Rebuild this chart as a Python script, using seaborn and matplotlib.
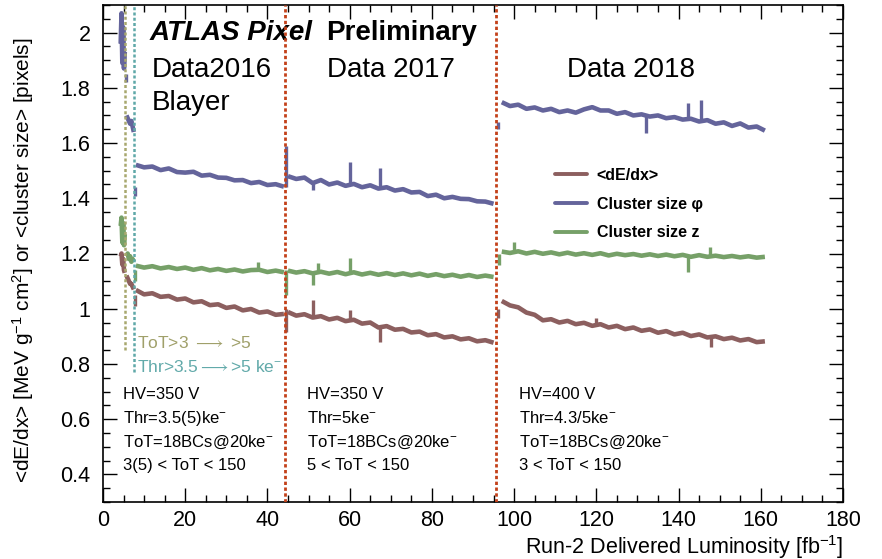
import numpy as np
import pandas as pd
import matplotlib
matplotlib.use("Agg")
import matplotlib.pyplot as plt
from matplotlib.lines import Line2D
from matplotlib.ticker import MultipleLocator
import seaborn as sns

# Luminosity points (fb^-1) per data-taking period
lumi_16a = [4.3, 4.5, 4.7, 4.9, 5.1, 5.3]
lumi_16b = [5.7, 6.0, 6.3, 6.6, 6.9, 7.2, 7.5]
lumi_16 = [8, 10, 12, 14, 16, 18, 20, 22, 24, 26, 28, 30, 32, 34, 36, 38, 40, 42, 44]
lumi_17 = [45, 47, 49, 51, 53, 55, 57, 59, 61, 63, 65, 67, 69, 71, 73, 75, 77, 79,
           81, 83, 85, 87, 89, 91, 93, 95]
lumi_18 = [97, 99, 101, 103, 105, 107, 109, 111, 113, 115, 117, 119, 121, 123, 125,
           127, 129, 131, 133, 135, 137, 139, 141, 143, 145, 147, 149, 151, 153, 155,
           157, 159, 161]

# <dE/dx>
dedx_16a = [1.19, 1.20, 1.16, 1.18, 1.14, 1.13]
dedx_16b = [1.12, 1.11, 1.10, 1.09, 1.09, 1.08, 1.07]
dedx_16 = [1.068, 1.052, 1.056, 1.043, 1.046, 1.033, 1.037, 1.023, 1.027, 1.013, 1.016,
           1.003, 1.008, 0.994, 0.999, 0.986, 0.990, 0.978, 0.981]
dedx_17 = [0.988, 0.975, 0.980, 0.968, 0.973, 0.961, 0.967, 0.955, 0.960, 0.946, 0.950,
           0.932, 0.937, 0.924, 0.927, 0.914, 0.917, 0.904, 0.908, 0.896, 0.900, 0.889,
           0.893, 0.882, 0.886, 0.877]
dedx_18 = [1.028, 1.012, 1.005, 0.986, 0.978, 0.958, 0.962, 0.950, 0.956, 0.944, 0.949,
           0.938, 0.944, 0.932, 0.938, 0.926, 0.932, 0.920, 0.925, 0.913, 0.919, 0.907,
           0.913, 0.901, 0.907, 0.896, 0.900, 0.890, 0.895, 0.885, 0.890, 0.879, 0.882]

# <cluster size> phi
phi_16a = [1.96, 2.07, 1.89, 2.02, 1.87, 1.93]
phi_16b = [1.70, 1.69, 1.68, 1.67, 1.68, 1.66, 1.64]
phi_16 = [1.521, 1.512, 1.515, 1.502, 1.508, 1.495, 1.493, 1.496, 1.482, 1.485, 1.475,
          1.474, 1.465, 1.466, 1.455, 1.459, 1.448, 1.451, 1.442]
phi_17 = [1.480, 1.470, 1.475, 1.455, 1.466, 1.450, 1.457, 1.445, 1.452, 1.440, 1.447,
          1.435, 1.440, 1.428, 1.433, 1.421, 1.423, 1.408, 1.413, 1.400, 1.405, 1.398,
          1.397, 1.389, 1.388, 1.380]
phi_18 = [1.748, 1.734, 1.739, 1.724, 1.729, 1.718, 1.724, 1.712, 1.718, 1.710, 1.722,
          1.730, 1.718, 1.718, 1.706, 1.712, 1.700, 1.704, 1.696, 1.700, 1.690, 1.694,
          1.685, 1.688, 1.678, 1.683, 1.670, 1.675, 1.662, 1.671, 1.656, 1.660, 1.645]

# <cluster size> z
z_16a = [1.30, 1.33, 1.24, 1.31, 1.23, 1.27]
z_16b = [1.19, 1.20, 1.18, 1.19, 1.17, 1.18, 1.17]
z_16 = [1.156, 1.149, 1.154, 1.146, 1.151, 1.144, 1.149, 1.141, 1.147, 1.139, 1.144,
        1.137, 1.142, 1.135, 1.140, 1.141, 1.133, 1.138, 1.132]
z_17 = [1.138, 1.131, 1.136, 1.128, 1.134, 1.127, 1.133, 1.125, 1.132, 1.124, 1.130,
        1.123, 1.129, 1.122, 1.128, 1.121, 1.127, 1.119, 1.125, 1.118, 1.123, 1.116,
        1.122, 1.115, 1.120, 1.115]
z_18 = [1.207, 1.202, 1.208, 1.200, 1.206, 1.199, 1.204, 1.197, 1.203, 1.196, 1.201,
        1.195, 1.201, 1.193, 1.199, 1.194, 1.198, 1.192, 1.197, 1.191, 1.196, 1.190,
        1.195, 1.188, 1.194, 1.188, 1.192, 1.187, 1.191, 1.186, 1.190, 1.185, 1.188]

# single runs that stick out: luminosity, low, high
dedx_spike_x = [7.7, 44.4, 51, 60, 67.4, 96.2, 120, 148]
dedx_spike_lo = [1.01, 0.915, 0.965, 0.955, 0.88, 0.965, 0.94, 0.86]
dedx_spike_hi = [1.05, 1.00, 1.03, 0.996, 0.935, 1.00, 0.967, 0.90]
phi_spike_x = [5.6, 7.7, 44.4, 51, 60, 67.4, 96.0, 132, 142.3, 145.5]
phi_spike_lo = [1.82, 1.41, 1.44, 1.43, 1.45, 1.44, 1.65, 1.635, 1.69, 1.68]
phi_spike_hi = [1.85, 1.44, 1.59, 1.46, 1.53, 1.51, 1.675, 1.70, 1.746, 1.755]
z_spike_x = [7.7, 37.7, 44.4, 51, 52.4, 60, 96.3, 100, 142.3, 147.7]
z_spike_lo = [1.10, 1.138, 1.05, 1.087, 1.128, 1.128, 1.16, 1.205, 1.134, 1.19]
z_spike_hi = [1.14, 1.17, 1.14, 1.13, 1.167, 1.185, 1.20, 1.24, 1.192, 1.225]

# period boundaries
tot_change = 5.35
thr_change = 7.6
year_bounds = [44.3, 95.6]

colors = {"<dE/dx>": "#8c5f5f", "Cluster size φ": "#64649b", "Cluster size z": "#76a068"}

# build a long table for seaborn
rows = []
segments = [("16a", lumi_16a, dedx_16a, phi_16a, z_16a),
            ("16b", lumi_16b, dedx_16b, phi_16b, z_16b),
            ("16", lumi_16, dedx_16, phi_16, z_16),
            ("17", lumi_17, dedx_17, phi_17, z_17),
            ("18", lumi_18, dedx_18, phi_18, z_18)]
for seg, lx, d, p, z in segments:
    for name, vals in [("<dE/dx>", d), ("Cluster size φ", p), ("Cluster size z", z)]:
        for xv, yv in zip(lx, vals):
            rows.append({"lumi": xv, "value": yv, "quantity": name, "segment": seg})
df = pd.DataFrame(rows)

sns.set_style("ticks")
plt.rcParams['font.family'] = ['Liberation Sans', 'DejaVu Sans']
plt.rcParams['mathtext.fontset'] = 'custom'
plt.rcParams['mathtext.rm'] = 'Liberation Sans'
plt.rcParams['mathtext.it'] = 'Liberation Sans:italic'
plt.rcParams['mathtext.bf'] = 'Liberation Sans:bold'
for key in ['text.color', 'axes.labelcolor', 'xtick.color', 'ytick.color', 'axes.edgecolor']:
    plt.rcParams[key] = 'black'

fig = plt.figure(figsize=(8.82, 5.59), dpi=100)
ax = fig.add_axes([103 / 882, 1 - 502 / 559, 740 / 882, 497 / 559])

sns.lineplot(data=df, x="lumi", y="value", hue="quantity", units="segment",
             estimator=None, palette=colors, linewidth=3.3, legend=False, ax=ax,
             solid_capstyle="butt")

ax.vlines(dedx_spike_x, dedx_spike_lo, dedx_spike_hi, color=colors["<dE/dx>"], lw=2.4)
ax.vlines(phi_spike_x, phi_spike_lo, phi_spike_hi, color=colors["Cluster size φ"], lw=2.4)
ax.vlines(z_spike_x, z_spike_lo, z_spike_hi, color=colors["Cluster size z"], lw=2.4)

# period separators
for xb in year_bounds:
    ax.axvline(xb, color="#c3411a", lw=2, ls=(0, (1.2, 0.9)), zorder=5)
ax.plot([tot_change, tot_change], [0.85, 2.1], color="#a8a86e", lw=1.8, ls=(0, (1.2, 0.9)))
ax.plot([thr_change, thr_change], [0.77, 2.1], color="#5fa8a8", lw=1.8, ls=(0, (1.2, 0.9)))

ax.set_xlim(0, 180)
ax.set_ylim(0.3, 2.1)
ax.xaxis.set_major_locator(MultipleLocator(20))
ax.xaxis.set_minor_locator(MultipleLocator(5))
ax.yaxis.set_minor_locator(MultipleLocator(0.05))
ax.set_yticks([0.4, 0.6, 0.8, 1.0, 1.2, 1.4, 1.6, 1.8, 2.0])
ax.set_yticklabels(["0.4", "0.6", "0.8", "1", "1.2", "1.4", "1.6", "1.8", "2"])
ax.tick_params(which="both", direction="in", top=True, right=True, width=1, labelsize=15.5)
ax.tick_params(which="major", length=10)
ax.tick_params(which="minor", length=5)
ax.tick_params(axis="y", pad=9)
ax.tick_params(axis="x", pad=6)
for sp in ax.spines.values():
    sp.set_linewidth(1.2)

ax.set_xlabel(r"Run-2 Delivered Luminosity [fb$^{-1}$]", fontsize=15.5, loc="right")
ax.set_ylabel(r"<dE/dx> [MeV g$^{-1}$ cm$^{2}$] or <cluster size> [pixels]", fontsize=15)
ax.xaxis.set_label_coords(1.0, -0.062)
ax.yaxis.set_label_coords(-0.09, 0.487)

# header texts
ax.text(11.4, 2.0, "ATLAS Pixel", fontsize=20, fontweight="bold", fontstyle="italic", va="center")
ax.text(54.3, 2.0, "Preliminary", fontsize=20, fontweight="bold", va="center")
ax.text(11.9, 1.866, "Data2016", fontsize=20, va="center")
ax.text(11.9, 1.746, "Blayer", fontsize=20, va="center")
ax.text(54.5, 1.866, "Data 2017", fontsize=20, va="center")
ax.text(112.9, 1.866, "Data 2018", fontsize=20, va="center")

ax.text(8.3, 0.877, r"ToT>3 $\longrightarrow$ >5", fontsize=12.5, color="#a0a06a", va="center")
ax.text(8.3, 0.79, r"Thr>3.5$\longrightarrow$>5 ke$^{-}$", fontsize=12.5, color="#62aaaa", va="center")

# operating conditions per year
cond_x = [4.9, 49.6, 101.2]
cond_hv = ["HV=350 V", "HV=350 V", "HV=400 V"]
cond_thr = [r"Thr=3.5(5)ke$^{-}$", r"Thr=5ke$^{-}$", r"Thr=4.3/5ke$^{-}$"]
cond_tot = [r"ToT=18BCs@20ke$^{-}$"] * 3
cond_cut = ["3(5) < ToT < 150", "5 < ToT < 150", "3 < ToT < 150"]
for xc, a, b, c, d in zip(cond_x, cond_hv, cond_thr, cond_tot, cond_cut):
    ax.text(xc, 0.689, a, fontsize=12, va="center")
    ax.text(xc, 0.603, b, fontsize=12, va="center")
    ax.text(xc, 0.516, c, fontsize=12, va="center")
    ax.text(xc, 0.431, d, fontsize=12, va="center")

handles = [Line2D([], [], color=c, lw=2.8) for c in colors.values()]
ax.legend(handles, list(colors.keys()), loc="upper left", bbox_to_anchor=(0.611, 0.672),
          frameon=False, borderpad=0, borderaxespad=0, handlelength=2.0,
          handletextpad=0.6, labelspacing=0.85,
          prop={"weight": "bold", "size": 11.5})

plt.savefig("out.png", dpi=100)
